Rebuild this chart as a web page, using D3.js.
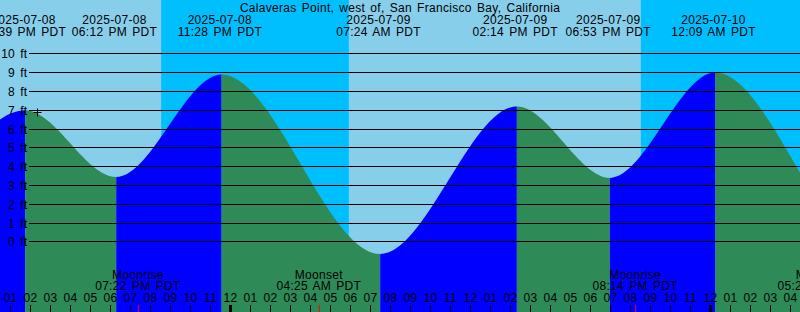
<!DOCTYPE html>
<html lang="en">
<head>
<meta charset="UTF-8">
<title>Calaveras Point tide graph</title>
<style>
  body { margin: 0; }
  svg { display: block; font-family: "Liberation Sans", Arial, sans-serif; font-size: 12px; }
  text { letter-spacing: 0.3px; word-spacing: 1.5px; fill: #000; }
</style>
</head>
<body>
<script src="https://cdn.jsdelivr.net/npm/d3@7"></script>
<script>
// station + time window (PDT wall clock, kept as naive UTC)
var title = "Calaveras Point, west of, San Francisco Bay, California";
var timeWindow = ["2025-07-08 12:28:30", "2025-07-10 04:28:30"];

// high / low tides (first, second and last two lie outside the window)
var tideTimes = ["2025-07-08 00:05", "2025-07-08 06:00", "2025-07-08 13:39", "2025-07-08 18:12",
                 "2025-07-08 23:28", "2025-07-09 07:24", "2025-07-09 14:14", "2025-07-09 18:53",
                 "2025-07-10 00:09", "2025-07-10 08:10", "2025-07-10 14:50"];
var tideLevels = [8.6, 0.2, 7.0, 3.45, 8.9, -0.65, 7.2, 3.4, 9.0, -0.8, 7.0];

// sun and moon
var sunsetTimes = ["2025-07-08 20:32", "2025-07-09 20:31"];
var sunriseTimes = ["2025-07-09 05:55", "2025-07-10 05:56"];
var moonTimes = ["2025-07-08 19:22", "2025-07-09 04:25", "2025-07-09 20:14", "2025-07-10 05:28"];
var moonNames = ["Moonrise", "Moonset", "Moonrise", "Moonset"];

var levelTicks = [0, 1, 2, 3, 4, 5, 6, 7, 8, 9, 10];
var nowTime = "2025-07-08 14:20", nowLevel = 6.9;

var w = 800, h = 312;
var parseMin = d3.utcParse("%Y-%m-%d %H:%M"),
    parseSec = d3.utcParse("%Y-%m-%d %H:%M:%S"),
    fmtDate = d3.utcFormat("%Y-%m-%d"),
    fmtTime = d3.utcFormat("%I:%M %p PDT"),
    fmtHour = d3.utcFormat("%I");

var x = d3.scaleUtc()
    .domain(timeWindow.map(parseSec))
    .range([0, w]);
var y = d3.scaleLinear()
    .domain([0, 10])
    .range([241.8, 53.8]);

var tide = tideTimes.map(function(t, i) {
    return { t: parseMin(t), v: tideLevels[i] };
});

var svg = d3.select("body")
    .append("svg")
    .attr("width", w)
    .attr("height", h);

// day / night
svg.append("rect")
    .attr("width", w)
    .attr("height", h)
    .attr("fill", "#87ceeb");
svg.selectAll("rect.night")
    .data(sunsetTimes)
    .enter()
    .append("rect")
    .attr("class", "night")
    .attr("x", function(d) { return x(parseMin(d)); })
    .attr("y", 0)
    .attr("width", function(d, i) { return x(parseMin(sunriseTimes[i])) - x(parseMin(d)); })
    .attr("height", h)
    .attr("fill", "#00bfff");

// tide curve, blue when rising, green when falling
// (the original graph samples the curve a pixel or two late, hence the nudge)
var area = d3.area()
    .x(function(d) { return x(d.t); })
    .y0(h)
    .y1(function(d) { return y(d.v); })
    .curve(d3.curveMonotoneX);

var defs = svg.append("defs");
var tideG = svg.append("g").attr("transform", "translate(1.7,0)");
tide.slice(1).forEach(function(d, i) {
    var prev = tide[i];
    defs.append("clipPath")
        .attr("id", "seg" + i)
        .append("rect")
        .attr("x", x(prev.t))
        .attr("y", 0)
        .attr("width", x(d.t) - x(prev.t))
        .attr("height", h);
    tideG.append("path")
        .datum(tide)
        .attr("d", area)
        .attr("clip-path", "url(#seg" + i + ")")
        .attr("fill", d.v > prev.v ? "#0000ff" : "#2e8b57");
});

// level lines and labels
svg.selectAll("line.grid")
    .data(levelTicks)
    .enter()
    .append("line")
    .attr("x1", 29)
    .attr("x2", w)
    .attr("y1", function(d) { return Math.floor(y(d)) + 0.5; })
    .attr("y2", function(d) { return Math.floor(y(d)) + 0.5; })
    .attr("stroke", "#000")
    .attr("stroke-width", 1);
svg.selectAll("text.level")
    .data(levelTicks)
    .enter()
    .append("text")
    .attr("x", 27.5)
    .attr("y", function(d) { return Math.floor(y(d)) + 4.8; })
    .attr("text-anchor", "end")
    .text(function(d) { return d + " ft"; });

// now marker
var nx = Math.floor(x(parseMin(nowTime))) + 0.5,
    ny = Math.floor(y(nowLevel)) + 0.5;
svg.append("path")
    .attr("d", "M" + (nx - 4) + "," + ny + "H" + (nx + 4) + "M" + nx + "," + (ny - 4) + "V" + (ny + 4))
    .attr("stroke", "#000")
    .attr("fill", "none");

// title and tide event labels
svg.append("text")
    .attr("x", w / 2)
    .attr("y", 12)
    .attr("text-anchor", "middle")
    .text(title);
var events = svg.selectAll("g.event")
    .data(tide)
    .enter()
    .append("g")
    .attr("transform", function(d) { return "translate(" + x(d.t) + ",0)"; })
    .attr("text-anchor", "middle");
events.append("text").attr("y", 24).text(function(d) { return fmtDate(d.t); });
events.append("text").attr("y", 36).text(function(d) { return fmtTime(d.t); });

// moon events
var moon = svg.selectAll("g.moon")
    .data(moonTimes)
    .enter()
    .append("g")
    .attr("transform", function(d) { return "translate(" + x(parseMin(d)) + ",0)"; })
    .attr("text-anchor", "middle");
moon.append("text").attr("y", 279).text(function(d, i) { return moonNames[i]; });
moon.append("text").attr("y", 290).text(function(d) { return fmtTime(parseMin(d)); });
moon.append("rect")
    .attr("x", 0)
    .attr("y", 305)
    .attr("width", 1)
    .attr("height", 7)
    .attr("fill", "#ff0000");

// hour ticks
var hours = x.ticks(d3.utcHour.every(1));
svg.selectAll("rect.hour")
    .data(hours)
    .enter()
    .append("rect")
    .attr("x", function(d) { return d.getUTCHours() === 0 ? x(d) - 1.5 : x(d) - 0.5; })
    .attr("y", 305)
    .attr("width", function(d) { return d.getUTCHours() === 0 ? 3 : 1; })
    .attr("height", 7)
    .attr("fill", "#000");
svg.selectAll("text.hour")
    .data(hours)
    .enter()
    .append("text")
    .attr("x", function(d) { return x(d); })
    .attr("y", 302)
    .attr("text-anchor", "middle")
    .text(function(d) { return fmtHour(d); });
</script>
</body>
</html>
